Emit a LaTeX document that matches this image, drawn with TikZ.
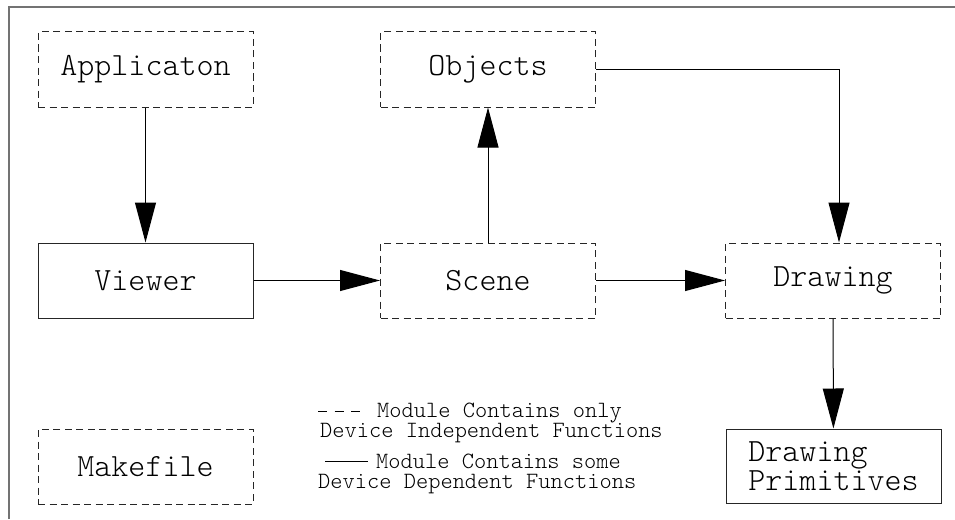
\documentclass[tikz,border=0pt]{standalone}
\usepackage{fontspec}
\setmonofont{Latin Modern Mono Light}
\usetikzlibrary{arrows.meta,calc}
\begin{document}
\begin{tikzpicture}[x=1pt,y=-1pt,
  box/.style={draw=black!85,line width=1pt,minimum width=215pt,minimum height=75pt,inner sep=0pt,
    font=\ttfamily\fontsize{32.4}{26}\selectfont},
  dbox/.style={box,dash pattern=on 7pt off 4.5pt},
  conn/.style={draw=black,line width=1pt,-{Triangle[length=40pt,width=21pt]}},
  legend/.style={anchor=base west,inner sep=0pt,font=\ttfamily\fontsize{23.3}{20}\selectfont}]
\useasboundingbox (0,0) rectangle (955,519);
% frame
\draw[gray!90!black,line width=1.3pt] (9,519) -- (9,7) -- (955,7);
% boxes
\node[dbox] (app) at (145.5,69.5) {Applicaton};
\node[dbox] (obj) at (488,69.5) {Objects};
\node[box] (viewer) at (145.5,280.5) {Viewer};
\node[dbox] (scene) at (488,280.5) {Scene};
\node[dbox] (drawing) at (833,280.5) {Drawing};
\node[box,align=left,minimum height=74pt] (prim) at (833.5,466) {Drawing\\Primitives};
\node[dbox] (make) at (145.5,466.5) {Makefile};
% connectors
\draw[conn] (app) -- (viewer);
\draw[conn] (scene) -- (obj);
\draw[conn] (viewer) -- (scene);
\draw[conn] (scene) -- (drawing);
\draw[conn] (drawing) -- (prim);
\draw[conn] (obj.east) -| ([xshift=6pt]drawing.north);
% legend
\coordinate (l1a) at (318,411);
\coordinate (l1b) at (362,411);
\coordinate (l2a) at (325,461);
\coordinate (l2b) at (368,461);
\draw[line width=0.8pt,dash pattern=on 9pt off 7.5pt] (l1a) -- (l1b);
\draw[line width=0.8pt] (l2a) -- (l2b);
\node[legend] (t1) at (377,417) {Module Contains only};
\node[legend] (t2) at (320,437) {Device Independent Functions};
\node[legend] (t3) at (376,468) {Module Contains some};
\node[legend] (t4) at (318,488) {Device Dependent Functions};
\end{tikzpicture}
\end{document}
